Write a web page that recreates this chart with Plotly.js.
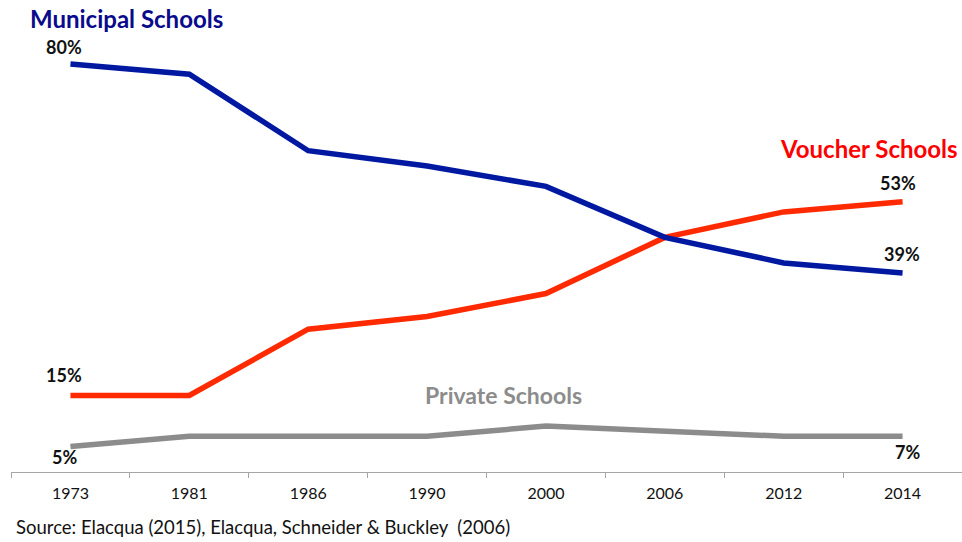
<!DOCTYPE html>
<html>
<head>
<meta charset="utf-8">
<script src="https://cdn.plot.ly/plotly-3.0.1.min.js"></script>
<style>html,body{margin:0;padding:0;background:#fff;}#chart{width:962px;height:542px;}</style>
</head>
<body>
<div id="chart"></div>
<script>
var years = ["1973", "1981", "1986", "1990", "2000", "2006", "2012", "2014"];
var municipal = [80, 78, 63, 60, 56, 46, 41, 39];
var voucher = [15, 15, 28, 30.5, 35, 46, 51, 53];
var privateS = [5, 7, 7, 7, 9, 8, 7, 7];
var seriesNames = ["Municipal Schools", "Voucher Schools", "Private Schools"];
var sourceText = "Source: Elacqua (2015), Elacqua, Schneider & Buckley  (2006)";

var FONT = "Lato, 'Open Sans', sans-serif";
var cMun = "#0019A0", cVou = "#FF2A00", cPri = "#8C8C8C";

function tr(y, c, n) {
  return {x: years, y: y, type: "scatter", mode: "lines", name: n,
    line: {color: c, width: 5.5}, hoverinfo: "skip"};
}
var data = [tr(privateS, cPri, seriesNames[2]), tr(voucher, cVou, seriesNames[1]), tr(municipal, cMun, seriesNames[0])];

function pct(i, arr, ys, xs) {
  return {x: i, y: arr[i], xref: "x", yref: "y", text: "<b>" + arr[i] + "%</b>",
    showarrow: false, yshift: ys, xshift: xs || 0, font: {family: FONT, size: 18, color: "#111"}};
}
var last = years.length - 1;
var annotations = [
  pct(0, municipal, 17, -6),
  pct(0, voucher, 21, -6),
  pct(0, privateS, -10, -6),
  pct(last, voucher, 19, -5),
  pct(last, municipal, 19, -1),
  pct(last, privateS, -16, 5),
  {x: 0, y: 1.0, xref: "paper", yref: "paper", xanchor: "left", yanchor: "middle",
   xshift: 17, yshift: -5, text: "<b>" + seriesNames[0] + "</b>", showarrow: false,
   font: {family: FONT, size: 24, color: "#0A0A8C"}},
  {x: 1, y: 53, xref: "paper", yref: "y", xanchor: "right", yanchor: "middle",
   yshift: 53, xshift: -2, text: "<b>" + seriesNames[1] + "</b>", showarrow: false,
   font: {family: FONT, size: 24, color: "#FF0000"}},
  {x: 4, y: 9, xref: "x", yref: "y", xanchor: "center", yanchor: "middle",
   yshift: 31, xshift: -42, text: "<b>" + seriesNames[2] + "</b>", showarrow: false,
   font: {family: FONT, size: 23, color: "#8C8C8C"}},
  {x: 0, y: 0, xref: "paper", yref: "paper", xanchor: "left", yanchor: "middle",
   xshift: 3, yshift: -55, text: sourceText, showarrow: false,
   font: {family: FONT, size: 18.5, color: "#111"}}
];

var layout = {
  width: 962, height: 542,
  margin: {l: 11, r: 0, t: 13, b: 70},
  paper_bgcolor: "#fff", plot_bgcolor: "#fff",
  showlegend: false,
  xaxis: {type: "category", range: [-0.5, 7.5], tickson: "boundaries",
    ticks: "outside", ticklen: 5, tickcolor: "#A6A6A6", tickwidth: 1,
    showline: true, linecolor: "#A6A6A6", linewidth: 1, showgrid: false, zeroline: false,
    tickfont: {family: FONT, size: 16, color: "#111"}, ticklabelstandoff: 7, fixedrange: true},
  yaxis: {range: [0, 90], visible: false, showgrid: false, zeroline: false, fixedrange: true},
  annotations: annotations
};
Plotly.newPlot("chart", data, layout, {displayModeBar: false, staticPlot: true});
</script>
</body>
</html>
